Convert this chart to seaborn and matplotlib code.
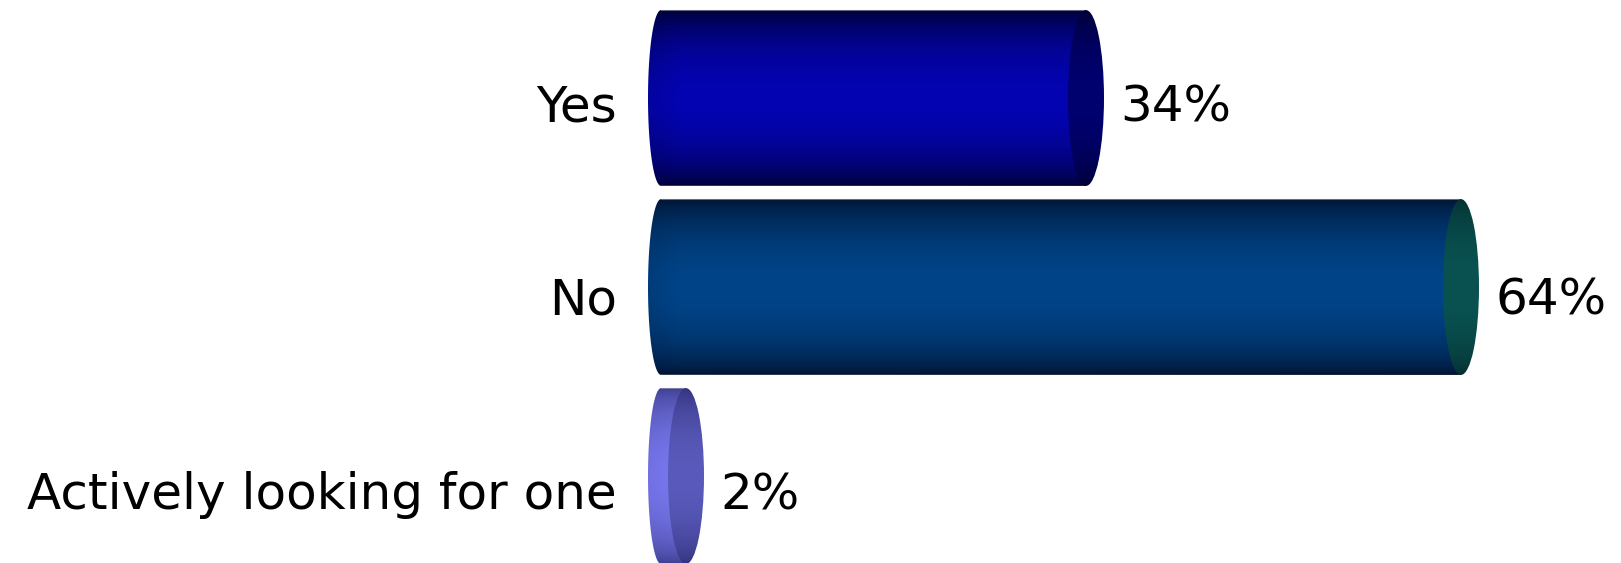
import numpy as np
import pandas as pd
import matplotlib
matplotlib.use("Agg")
import matplotlib.pyplot as plt
import seaborn as sns
from matplotlib.path import Path
from matplotlib.patches import PathPatch, Ellipse
from matplotlib.transforms import ScaledTranslation

# Survey answers and their shares (percent)
categories = ["Yes", "No", "Actively looking for one"]
values = [34, 64, 2]
value_labels = ["34%", "64%", "2%"]

# Cylinder shading: (body bright, body dark, cap bright, cap dark)
shades = [
    ("#0404b2", "#00002c", "#000070", "#000030"),
    ("#004488", "#00102c", "#0a5252", "#042e2e"),
    ("#7a7af2", "#3c3c8c", "#5a5abc", "#303078"),
]

# downward nudge of each row's text, in pixels
label_shift = [4, 8, 14]

sns.set_theme(style="white")
plt.rcParams["font.family"] = ["DejaVu Sans"]

W, H, DPI = 1621, 563, 100
fig = plt.figure(figsize=(W / DPI, H / DPI), dpi=DPI)
fig.patch.set_facecolor("white")

px_per_unit = 12.5
left_px, zero_px = 647, 661
ax = fig.add_axes([left_px / W, 0, 1 - left_px / W, 1])

df = pd.DataFrame({"answer": categories, "share": values})
sns.barplot(data=df, x="share", y="answer", orient="h", width=0.93,
            color="white", saturation=1, ax=ax)

bulge = 13 / px_per_unit      # left rim curvature, data units
cap_a = 18 / px_per_unit      # right cap half-width, data units
FS = 36


def vertical_profile(n, power=0.6):
    t = np.linspace(0, 1, n)
    return np.clip(np.sin(np.pi * t), 0, 1) ** power


def gradient(bright, dark, rows, cols, hfactor=None):
    b = np.array(matplotlib.colors.to_rgb(bright))
    d = np.array(matplotlib.colors.to_rgb(dark))
    prof = vertical_profile(rows)[:, None]
    if hfactor is None:
        hfactor = np.ones(cols)
    k = prof * hfactor[None, :]
    return d[None, None, :] + (b - d)[None, None, :] * k[:, :, None]


for i, (patch, (bb, bd, cb, cd), lbl) in enumerate(zip(ax.patches, shades, value_labels)):
    x0 = patch.get_x()
    w = patch.get_width()
    y0 = patch.get_y()
    h = patch.get_height()
    yc = y0 + h / 2
    patch.set_visible(False)

    # body outline: straight top/bottom, curved left rim
    tt = np.linspace(0, np.pi, 60)
    rim = np.column_stack([x0 - bulge * np.sin(tt), (y0 + h) - h * (1 - np.cos(tt)) / 2])
    verts = np.vstack([[x0, y0], [x0 + w, y0], [x0 + w, y0 + h], rim[1:]])
    body_clip = PathPatch(Path(verts, closed=False), transform=ax.transData,
                          facecolor="none", edgecolor="none")
    ax.add_patch(body_clip)

    cols = 300
    xs = np.linspace(x0 - bulge, x0 + w + cap_a, cols)
    hf = 0.86 + 0.14 * np.clip((xs - (x0 - bulge)) / 2.5, 0, 1)
    img = gradient(bb, bd, 200, cols, hf)
    im = ax.imshow(img, extent=(x0 - bulge, x0 + w + cap_a, y0 + h, y0),
                   origin="upper", aspect="auto", interpolation="bilinear", zorder=2)
    im.set_clip_path(body_clip)

    # thin light rim along the top edge of the body
    ax.plot([x0, x0 + w], [y0, y0], color="#8b9bb0", lw=0.8, alpha=0.6, zorder=2.5)

    # end cap
    cap_clip = Ellipse((x0 + w, yc), 2 * cap_a, h, transform=ax.transData,
                       facecolor="none", edgecolor="none")
    ax.add_patch(cap_clip)
    cimg = gradient(cb, cd, 200, 40)
    cim = ax.imshow(cimg, extent=(x0 + w - cap_a, x0 + w + cap_a, y0 + h, y0),
                    origin="upper", aspect="auto", interpolation="bilinear", zorder=3)
    cim.set_clip_path(cap_clip)

    ax.annotate(lbl, xy=(x0 + w + cap_a, yc),
                xytext=(12, -label_shift[i] * 72 / DPI),
                textcoords="offset points", ha="left", va="center_baseline",
                fontsize=FS, color="black", zorder=4)

ax.set_xlim(-(zero_px - left_px) / px_per_unit, (W - zero_px) / px_per_unit)
ax.set_ylim(2.46, -0.5185)
ax.set_xticks([])
ax.set_xlabel("")
ax.set_ylabel("")
ax.tick_params(axis="y", length=0, pad=21.6, labelsize=FS, labelcolor="black")
for lab, dy in zip(ax.get_yticklabels(), label_shift):
    lab.set_transform(lab.get_transform() + ScaledTranslation(0, -dy / DPI, fig.dpi_scale_trans))
for s in ax.spines.values():
    s.set_visible(False)
ax.set_facecolor("white")

fig.savefig("out.png", dpi=DPI, facecolor="white")
